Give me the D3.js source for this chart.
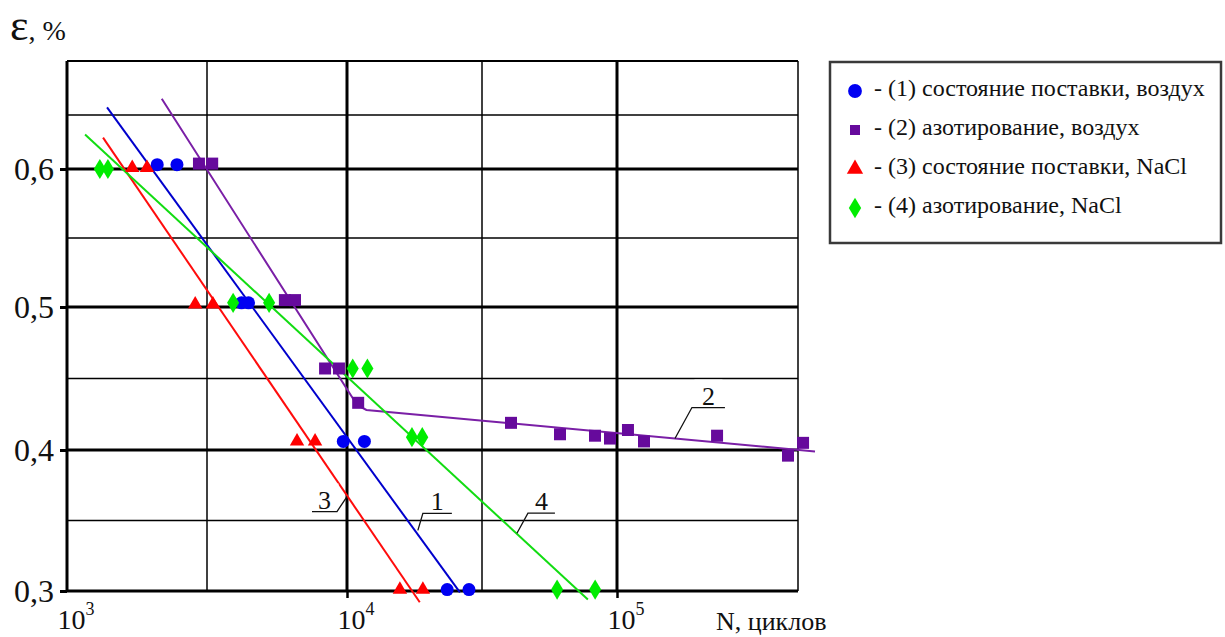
<!DOCTYPE html>
<html>
<head>
<meta charset="utf-8">
<script src="https://cdn.jsdelivr.net/npm/d3@7"></script>
<style>
  body { margin: 0; background: #fff; }
  svg { display: block; }
  text { font-family: 'Liberation Serif', 'Times New Roman', serif; fill: #111; }
</style>
</head>
<body>
<div id="chart"></div>
<script>
// ---- data ----
const seriesNames = [
  '- (1) состояние поставки, воздух',
  '- (2) азотирование, воздух',
  '- (3) состояние поставки, NaCl',
  '- (4) азотирование, NaCl'
];
const lineLabels = ['1', '2', '3', '4'];

// (1) as delivered, air
const n1 = [2100, 2470, 4200, 4450, 9700, 11600, 23500, 28300];
const e1 = [0.604, 0.604, 0.503, 0.503, 0.406, 0.406, 0.301, 0.301];
// (2) nitrided, air
const n2 = [2960, 3300, 6000, 6520, 8350, 9360, 11000, 40500, 61500, 82900, 94200, 109800, 125900, 234700, 429700, 488600];
const e2 = [0.605, 0.605, 0.505, 0.505, 0.457, 0.457, 0.433, 0.419, 0.411, 0.410, 0.408, 0.414, 0.406, 0.410, 0.396, 0.405];
// (3) as delivered, NaCl
const n3 = [1710, 1930, 2870, 3320, 6630, 7690, 15700, 19100];
const e3 = [0.601, 0.601, 0.502, 0.502, 0.406, 0.406, 0.301, 0.301];
// (4) nitrided, NaCl
const n4 = [1310, 1400, 3920, 5270, 10500, 11900, 17400, 19000, 60000, 83000];
const e4 = [0.600, 0.600, 0.503, 0.503, 0.457, 0.457, 0.409, 0.409, 0.301, 0.301];

// fitted lines [N, eps]
const fit1 = [[1390, 0.657], [26200, 0.299]];
const fit2 = [[2180, 0.665], [10900, 0.4315], [11800, 0.428], [541000, 0.399]];
const fit3 = [[1345, 0.629], [18600, 0.292]];
const fit4 = [[1160, 0.632], [78000, 0.294]];

// points where the number labels touch their line
const labelN = [18300, 163900, 10000, 42600];
const labelE = [0.343, 0.408, 0.367, 0.341];

// axes
const xTicks = [1e3, 1e4, 1e5];
const xTickExp = ['3', '4', '5'];
const xMajor = [1e4, 1e5];
const xMinor = [Math.pow(10, 3.5), Math.pow(10, 4.5)];
const xMax = 468000;
const yTicks = [0.3, 0.4, 0.5, 0.6];
const yTickLabels = ['0,3', '0,4', '0,5', '0,6'];
const yMajor = [0.4, 0.5, 0.6];
const yMinor = [0.35, 0.45, 0.55, 0.65];
const yMax = 0.7;

// ---- layout / style ----
const W = 1225;
const H = 637;
const fillColors = ['#0000f2', '#660a9c', '#ff0000', '#00ec00'];
const lineColors = ['#0000cc', '#7a1fa6', '#ff0c0c', '#12dc12'];

const tallDiamond = {
  draw(ctx, size) {
    const h = Math.sqrt(size) * 0.65;
    const w = h * 0.6;
    ctx.moveTo(0, -h);
    ctx.lineTo(w, 0);
    ctx.lineTo(0, h);
    ctx.lineTo(-w, 0);
    ctx.closePath();
  }
};
const symbolTypes = [d3.symbolCircle, d3.symbolSquare, d3.symbolTriangle, tallDiamond];
const symbolSizes = [133, 144, 90, 240];
const legendSizes = [150, 100, 115, 250];

// leader line offsets for labels 1..4 (elbow offset, underline length, direction)
const labelLayout = [
  { dx: 5, dy: -17, len: 29, dir: 1 },
  { dx: 17, dy: -31, len: 33, dir: 1 },
  { dx: -10, dy: 15, len: 25, dir: -1 },
  { dx: 11, dy: -20, len: 27, dir: 1 }
];

// the original axis is hand-drawn, so the scales are piecewise
const x = d3.scaleLog()
  .domain([1e3, 1e4, 1e5, xMax])
  .range([67, 347, 617, 798]);
const y = d3.scaleLinear()
  .domain([0.3, 0.4, 0.5, 0.6, yMax])
  .range([591, 450, 307, 169, 61]);

const svg = d3.select('#chart').append('svg')
  .attr('width', W)
  .attr('height', H);

svg.append('rect')
  .attr('width', W)
  .attr('height', H)
  .attr('fill', '#fff');

// ---- grid ----
const grid = svg.append('g').attr('class', 'grid').attr('stroke', '#000');

grid.selectAll('.hminor')
  .data(yMinor)
  .join('line')
  .attr('x1', x(1e3)).attr('x2', x(xMax))
  .attr('y1', y).attr('y2', y)
  .attr('stroke-width', 1.5);

grid.selectAll('.vminor')
  .data(xMinor.concat([xMax]))
  .join('line')
  .attr('x1', x).attr('x2', x)
  .attr('y1', y(yMax)).attr('y2', y(0.3))
  .attr('stroke-width', 1.5);

grid.append('line')
  .attr('x1', x(1e3)).attr('x2', x(xMax))
  .attr('y1', y(yMax)).attr('y2', y(yMax))
  .attr('stroke-width', 2);

grid.selectAll('.hmajor')
  .data(yMajor.concat([0.3]))
  .join('line')
  .attr('x1', x(1e3)).attr('x2', x(xMax))
  .attr('y1', y).attr('y2', y)
  .attr('stroke-width', 3);

grid.selectAll('.vmajor')
  .data(xMajor.concat([1e3]))
  .join('line')
  .attr('x1', x).attr('x2', x)
  .attr('y1', y(yMax)).attr('y2', y(0.3))
  .attr('stroke-width', 3);

// ---- axes ----
const yAxis = d3.axisLeft(y)
  .tickValues(yTicks)
  .tickSize(7)
  .tickPadding(6)
  .tickFormat((d, i) => yTickLabels[i]);

const yAxisG = svg.append('g')
  .attr('transform', `translate(${x(1e3)},0)`)
  .call(yAxis);
yAxisG.select('.domain').remove();
yAxisG.selectAll('.tick line').attr('stroke', '#000').attr('stroke-width', 3);
yAxisG.selectAll('.tick text')
  .attr('fill', '#111')
  .style('font-family', "'Liberation Serif', 'Times New Roman', serif")
  .style('font-size', '32px');

const xAxis = d3.axisBottom(x)
  .tickValues(xMajor)
  .tickSize(7)
  .tickFormat('');

const xAxisG = svg.append('g')
  .attr('transform', `translate(0,${y(0.3)})`)
  .call(xAxis);
xAxisG.select('.domain').remove();
xAxisG.selectAll('.tick line').attr('stroke', '#000').attr('stroke-width', 2.5);

const xLabels = svg.append('g').attr('class', 'x-labels')
  .selectAll('text')
  .data(xTicks)
  .join('text')
  .attr('x', (d) => x(d) + 9)
  .attr('y', 629)
  .attr('text-anchor', 'middle')
  .style('font-size', '28px');
xLabels.append('tspan').text('10');
xLabels.append('tspan')
  .attr('dy', -14)
  .style('font-size', '18px')
  .text((d, i) => xTickExp[i]);

svg.append('text')
  .attr('x', 716)
  .attr('y', 630)
  .style('font-size', '26px')
  .text('N, циклов');

const yTitle = svg.append('text')
  .attr('x', 10)
  .attr('y', 40);
yTitle.append('tspan').style('font-size', '44px').text('ε');
yTitle.append('tspan').style('font-size', '28px').text(', %');

// ---- fitted lines ----
const line = d3.line()
  .x((d) => x(d[0]))
  .y((d) => y(d[1]));

svg.append('g').attr('class', 'fits')
  .selectAll('path')
  .data([fit1, fit2, fit3, fit4])
  .join('path')
  .attr('d', line)
  .attr('fill', 'none')
  .attr('stroke', (d, i) => lineColors[i])
  .attr('stroke-width', 2);

// ---- markers ----
const seriesN = [n1, n2, n3, n4];
const seriesE = [e1, e2, e3, e4];

seriesN.forEach((ns, s) => {
  const sym = d3.symbol().type(symbolTypes[s]).size(symbolSizes[s]);
  svg.append('g').attr('class', `series-${s + 1}`)
    .selectAll('path')
    .data(ns.map((n, i) => [n, seriesE[s][i]]))
    .join('path')
    .attr('transform', (d) => `translate(${x(d[0])},${y(d[1])})`)
    .attr('d', sym)
    .attr('fill', fillColors[s]);
});

// ---- line number labels with leaders ----
const labelsG = svg.append('g').attr('class', 'line-labels');
lineLabels.forEach((lab, i) => {
  const L = labelLayout[i];
  const ax = x(labelN[i]);
  const ay = y(labelE[i]);
  const ex = ax + L.dx;
  const ey = ay + L.dy;
  const ux = ex + L.dir * L.len;
  const cx = (ex + ux) / 2;

  labelsG.append('rect')
    .attr('x', cx - 14)
    .attr('y', ey - 28)
    .attr('width', 28)
    .attr('height', 26)
    .attr('fill', '#fff');

  labelsG.append('polyline')
    .attr('points', `${ax},${ay} ${ex},${ey} ${ux},${ey}`)
    .attr('fill', 'none')
    .attr('stroke', '#111')
    .attr('stroke-width', 1.3);

  labelsG.append('text')
    .attr('x', cx)
    .attr('y', ey - 3)
    .attr('text-anchor', 'middle')
    .style('font-size', '26px')
    .text(lab);
});

// ---- legend ----
const legend = svg.append('g').attr('class', 'legend');
legend.append('rect')
  .attr('x', 830)
  .attr('y', 62)
  .attr('width', 391)
  .attr('height', 181)
  .attr('fill', '#fff')
  .attr('stroke', '#3a3a3a')
  .attr('stroke-width', 2.5);

const rows = legend.selectAll('.row')
  .data(seriesNames)
  .join('g')
  .attr('class', 'row')
  .attr('transform', (d, i) => `translate(0,${96 + i * 39})`);

rows.append('path')
  .attr('transform', 'translate(855,-5)')
  .attr('d', (d, i) => d3.symbol().type(symbolTypes[i]).size(legendSizes[i])())
  .attr('fill', (d, i) => fillColors[i]);

rows.append('text')
  .attr('x', 874)
  .attr('y', 0)
  .style('font-size', '24px')
  .text((d) => d);
</script>
</body>
</html>
